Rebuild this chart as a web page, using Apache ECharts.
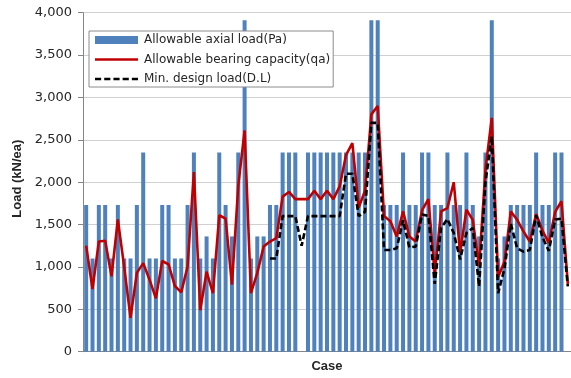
<!DOCTYPE html>
<html>
<head>
<meta charset="utf-8">
<script src="https://cdn.jsdelivr.net/npm/echarts@6/dist/echarts.min.js"></script>
<style>
  html, body { margin: 0; padding: 0; background: #fff; }
  #chart { width: 571px; height: 378px; }
</style>
</head>
<body>
<div id="chart"></div>
<script>
// Allowable axial load of each pile case (kN/ea); null where no value was given
const allowableAxialLoad = [
  1730, 1100, 1730, 1730, 1100, 1730, 1100, 1100, 1730, 2350,
  1100, 1100, 1730, 1730, 1100, 1100, 1730, 2350, 1100, 1360,
  1100, 2350, 1730, 1360, 2350, 3910, 1100, 1360, 1360, 1730,
  1730, 2350, 2350, 2350, null, 2350, 2350, 2350, 2350, 2350,
  2350, 2350, 2350, 2350, 2350, 3910, 3910, 1730, 1730, 1730,
  2350, 1730, 1730, 2350, 2350, 1730, 1730, 2350, 1730, 1730,
  2350, 1730, 1360, 2350, 3910, 1100, 1360, 1730, 1730, 1730,
  1730, 2350, 1730, 1730, 2350, 2350, null
];

// Allowable bearing capacity (kN/ea)
const allowableBearingCapacity = [
  1250, 740, 1300, 1310, 890, 1560, 1000, 400, 930, 1045,
  850, 630, 1070, 1030, 775, 700, 1005, 2120, 490, 945,
  690, 1610, 1570, 790, 1960, 2610, 690, 930, 1240, 1300,
  1340, 1830, 1885, 1800, 1800, 1800, 1900, 1800, 1900, 1800,
  1950, 2320, 2460, 1700, 1900, 2800, 2900, 1600, 1540, 1360,
  1655, 1360, 1300, 1670, 1800, 930, 1655, 1695, 2000, 1165,
  1675, 1555, 1005, 2150, 2760, 880, 1060, 1655, 1556, 1420,
  1300, 1625, 1430, 1280, 1650, 1775, 800
];

// Minimum design load (kN/ea); only known from case 30 onward
const minDesignLoad = [
  null, null, null, null, null, null, null, null, null, null,
  null, null, null, null, null, null, null, null, null, null,
  null, null, null, null, null, null, null, null, null, 1100,
  1100, 1600, 1600, 1600, 1250, 1600, 1600, 1600, 1600, 1600,
  1600, 2100, 2100, 1600, 1650, 2700, 2700, 1200, 1200, 1220,
  1550, 1230, 1240, 1620, 1600, 800, 1460, 1565, 1400, 1090,
  1400, 1460, 770, 2000, 2540, 690, 980, 1510, 1220, 1180,
  1200, 1610, 1350, 1190, 1560, 1570, 770
];

const cases = allowableAxialLoad.map((_, i) => String(i + 1));

const yTicks = { min: 0, max: 4000, step: 500 };

const seriesNames = [
  'Allowable axial load(Pa)',
  'Allowable bearing capacity(qa)',
  'Min. design load(D.L)'
];

// Legend samples: a solid stroke and a dashed stroke, drawn as thin filled strips
const solidLineIcon = 'path://M0,0H43V2.6H0Z';
const dashedLineIcon = 'path://M0,0H6V2.6H0Z M9,0H15V2.6H9Z M18,0H24V2.6H18Z M27,0H33V2.6H27Z M36,0H42V2.6H36Z';

const chart = echarts.init(document.getElementById('chart'), null, { renderer: 'canvas' });

const textColor = '#262626';
const axisGray = '#868686';

chart.setOption({
  animation: false,
  backgroundColor: '#ffffff',
  textStyle: { fontFamily: 'DejaVu Sans' },
  grid: { left: 83, right: -2, top: 12.7, bottom: 26.3, containLabel: false },
  legend: {
    orient: 'vertical',
    left: 89,
    top: 31,
    backgroundColor: '#ffffff',
    borderColor: '#8c8c8c',
    borderWidth: 1,
    borderRadius: 0,
    padding: [3, 3, 2, 6],
    itemGap: 7.5,
    itemWidth: 43,
    itemHeight: 8,
    symbolKeepAspect: true,
    textStyle: { fontFamily: 'DejaVu Sans', fontSize: 12, color: textColor, padding: [0, 0, 0, 1] },
    data: [
      { name: seriesNames[0], icon: 'rect' },
      { name: seriesNames[1], icon: solidLineIcon },
      { name: seriesNames[2], icon: dashedLineIcon }
    ]
  },
  xAxis: {
    type: 'category',
    data: cases,
    boundaryGap: true,
    name: 'Case',
    nameLocation: 'middle',
    nameGap: 8,
    nameTextStyle: { fontFamily: 'Liberation Sans', fontWeight: 'bold', fontSize: 13, color: textColor },
    axisLine: { show: true, lineStyle: { color: axisGray, width: 1 } },
    axisTick: { show: false },
    axisLabel: { show: false },
    splitLine: { show: false }
  },
  yAxis: {
    type: 'value',
    min: yTicks.min,
    max: yTicks.max,
    interval: yTicks.step,
    name: 'Load (kN/ea)',
    nameLocation: 'middle',
    nameRotate: 90,
    nameGap: 57,
    nameTextStyle: { fontFamily: 'Liberation Sans', fontWeight: 'bold', fontSize: 13, color: textColor, padding: [0, 0, 0, 7] },
    axisLine: { show: true, lineStyle: { color: axisGray, width: 1 } },
    axisTick: { show: true, inside: false, length: 5, lineStyle: { color: axisGray } },
    axisLabel: {
      margin: 11,
      fontFamily: 'DejaVu Sans',
      fontSize: 13,
      color: textColor,
      formatter: v => v.toLocaleString('en-US')
    },
    splitLine: { show: true, lineStyle: { color: '#d0d0d0', width: 1 } }
  },
  series: [
    {
      name: seriesNames[0],
      type: 'bar',
      data: allowableAxialLoad,
      barWidth: 4,
      itemStyle: { color: '#4f81bd', borderWidth: 0 }
    },
    {
      name: seriesNames[1],
      type: 'line',
      data: allowableBearingCapacity,
      symbol: 'none',
      lineStyle: { color: '#c00000', width: 2.6 },
      itemStyle: { color: '#c00000' }
    },
    {
      name: seriesNames[2],
      type: 'line',
      data: minDesignLoad,
      symbol: 'none',
      connectNulls: false,
      lineStyle: { color: '#000000', width: 2.6, type: [6, 3] },
      itemStyle: { color: '#000000' }
    }
  ]
});
</script>
</body>
</html>
